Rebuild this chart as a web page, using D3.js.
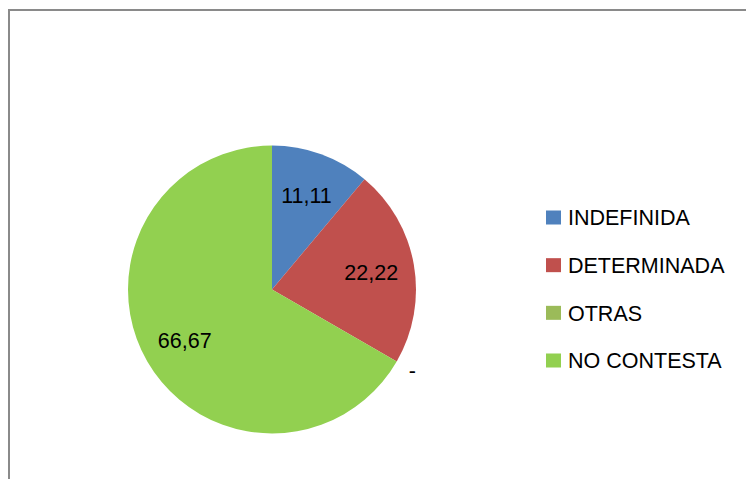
<!DOCTYPE html>
<html>
<head>
<meta charset="utf-8">
<script src="https://cdn.jsdelivr.net/npm/d3@7"></script>
<style>
  body { margin: 0; background: #fff; }
  text { font-family: "Liberation Sans", Arial, sans-serif; }
</style>
</head>
<body>
<div id="chart"></div>
<script>
const width = 746;
const height = 479;

// chart data
const categories = ["INDEFINIDA", "DETERMINADA", "OTRAS", "NO CONTESTA"];
const values = [11.11, 22.22, 0, 66.67];
const labels = ["11,11", "22,22", "-", "66,67"];
const colors = ["#4F81BD", "#C0504D", "#9BBB59", "#92D050"];

const cx = 272, cy = 289.5, radius = 144;

const svg = d3.select("#chart").append("svg")
    .attr("width", width)
    .attr("height", height);

// frame (only top and left are visible in the picture)
svg.append("path")
    .attr("d", `M9,${height} L9,10 L${width},10`)
    .attr("fill", "none")
    .attr("stroke", "#8a8a8a")
    .attr("stroke-width", 2);

const pie = d3.pie().sort(null).value(d => d.value);
const arcs = pie(categories.map((c, i) => ({ name: c, value: values[i], label: labels[i], color: colors[i] })));

const arc = d3.arc().innerRadius(0).outerRadius(radius);
const labelArc = d3.arc().innerRadius(radius * 0.7).outerRadius(radius * 0.7);
const outerArc = d3.arc().innerRadius(radius + 18).outerRadius(radius + 18);

const g = svg.append("g").attr("transform", `translate(${cx},${cy})`);

g.selectAll("path.slice")
  .data(arcs)
  .join("path")
    .attr("class", "slice")
    .attr("d", arc)
    .attr("fill", d => d.data.color);

// data labels; zero slices go just outside the pie
g.selectAll("text.lbl")
  .data(arcs)
  .join("text")
    .attr("class", "lbl")
    .attr("transform", d => {
      const p = d.value === 0 ? outerArc.centroid(d) : labelArc.centroid(d);
      return `translate(${p[0]},${p[1]})`;
    })
    .attr("text-anchor", "middle")
    .attr("dy", "0.36em")
    .attr("font-size", 21.5)
    .attr("fill", "#000")
    .text(d => d.data.label);

// legend
const legendY = d3.scalePoint().domain(categories).range([217.5, 360.5]);
const legend = svg.append("g");
const item = legend.selectAll("g")
  .data(categories)
  .join("g")
    .attr("transform", d => `translate(546,${legendY(d)})`);

item.append("rect")
    .attr("x", 0)
    .attr("y", -7)
    .attr("width", 15)
    .attr("height", 14)
    .attr("fill", (d, i) => colors[i]);

item.append("text")
    .attr("x", 22)
    .attr("dy", "0.36em")
    .attr("font-size", 21.5)
    .attr("fill", "#000")
    .text(d => d);
</script>
</body>
</html>
